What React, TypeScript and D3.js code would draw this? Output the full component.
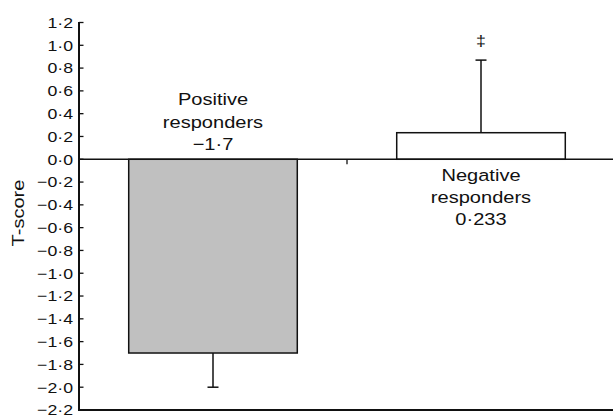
import React from "react";
import * as d3 from "d3";

const categories = ["Positive responders", "Negative responders"];
const labelLines = [
  ["Positive", "responders", "−1·7"],
  ["Negative", "responders", "0·233"],
];
const means = [-1.7, 0.233];
const errors = [0.3, 0.637];
const fills = ["#c0c0c0", "#ffffff"];
const marks = ["", "‡"];
const yTicks = [1.2, 1.0, 0.8, 0.6, 0.4, 0.2, 0.0, -0.2, -0.4, -0.6, -0.8, -1.0, -1.2, -1.4, -1.6, -1.8, -2.0, -2.2];
const yTitle = "T-score";

const W = 613;
const H = 417;
const FONT = "'Liberation Sans', Arial, Helvetica, sans-serif";
const SX = 1.18;

function fmt(v: number) {
  const s = Math.abs(v).toFixed(1).replace(".", "·");
  return (v < -1e-9 ? "−" : "") + s;
}

function SText({ x, y, size, anchor = "middle", rotate = 0, children }: any) {
  return (
    <g transform={`translate(${x},${y}) rotate(${rotate}) scale(${SX},1)`}>
      <text x={0} y={0} fontSize={size} textAnchor={anchor} fontFamily={FONT} fill="#111">
        {children}
      </text>
    </g>
  );
}

export default function App() {
  const axisX = 79;
  const x = d3.scaleBand<string>().domain(categories).range([axisX, 615]).padding(0);
  const y = d3.scaleLinear().domain([-2.2, 1.2]).range([410, 22.5]);
  const barW = x.bandwidth() * 0.629;
  const y0 = y(0);

  return (
    <svg width={W} height={H} style={{ position: "absolute", left: 0, top: 0, background: "#fff" }}>
      {/* bars */}
      {categories.map((c, i) => {
        const cx = (x(c) as number) + x.bandwidth() / 2;
        const v = means[i];
        const top = Math.min(y(v), y0);
        const h = Math.abs(y(v) - y0);
        const errEnd = v < 0 ? v - errors[i] : v + errors[i];
        return (
          <g key={c}>
            <line x1={cx} x2={cx} y1={y(v)} y2={y(errEnd)} stroke="#111" strokeWidth={1.5} />
            <line x1={cx - 5.5} x2={cx + 5.5} y1={y(errEnd)} y2={y(errEnd)} stroke="#111" strokeWidth={1.5} />
            <rect x={cx - barW / 2} y={top} width={barW} height={h} fill={fills[i]} stroke="#111" strokeWidth={1.5} />
            {marks[i] && (
              <SText x={cx} y={y(errEnd) - 14} size={15}>
                {marks[i]}
              </SText>
            )}
            {labelLines[i].map((ln, j) => {
              const n = labelLines[i].length;
              const by = v < 0 ? y0 - 9 - (n - 1 - j) * 22.7 : y0 + 21.5 + j * 22.2;
              return (
                <SText key={j} x={cx} y={by} size={17}>
                  {ln}
                </SText>
              );
            })}
          </g>
        );
      })}

      {/* zero line */}
      <line x1={axisX} x2={W} y1={y0} y2={y0} stroke="#111" strokeWidth={1.5} />
      {/* category separator tick */}
      <line x1={x(categories[1]) as number} x2={x(categories[1]) as number} y1={y0} y2={y0 + 5} stroke="#111" strokeWidth={1.3} />

      {/* bottom axis */}
      <line x1={axisX - 1} x2={W} y1={y(-2.2)} y2={y(-2.2)} stroke="#111" strokeWidth={2} />

      {/* y axis */}
      <line x1={axisX} x2={axisX} y1={y(1.2) - 0.5} y2={y(-2.2) + 1} stroke="#111" strokeWidth={2} />
      {yTicks.map((t) => (
        <g key={t}>
          <line x1={axisX} x2={axisX + 4.5} y1={y(t)} y2={y(t)} stroke="#111" strokeWidth={1.3} />
          <SText x={axisX - 6} y={y(t) + 5.3} size={15} anchor="end">
            {fmt(t)}
          </SText>
        </g>
      ))}
      <SText x={24} y={213} size={17} rotate={-90}>
        {yTitle}
      </SText>
    </svg>
  );
}
